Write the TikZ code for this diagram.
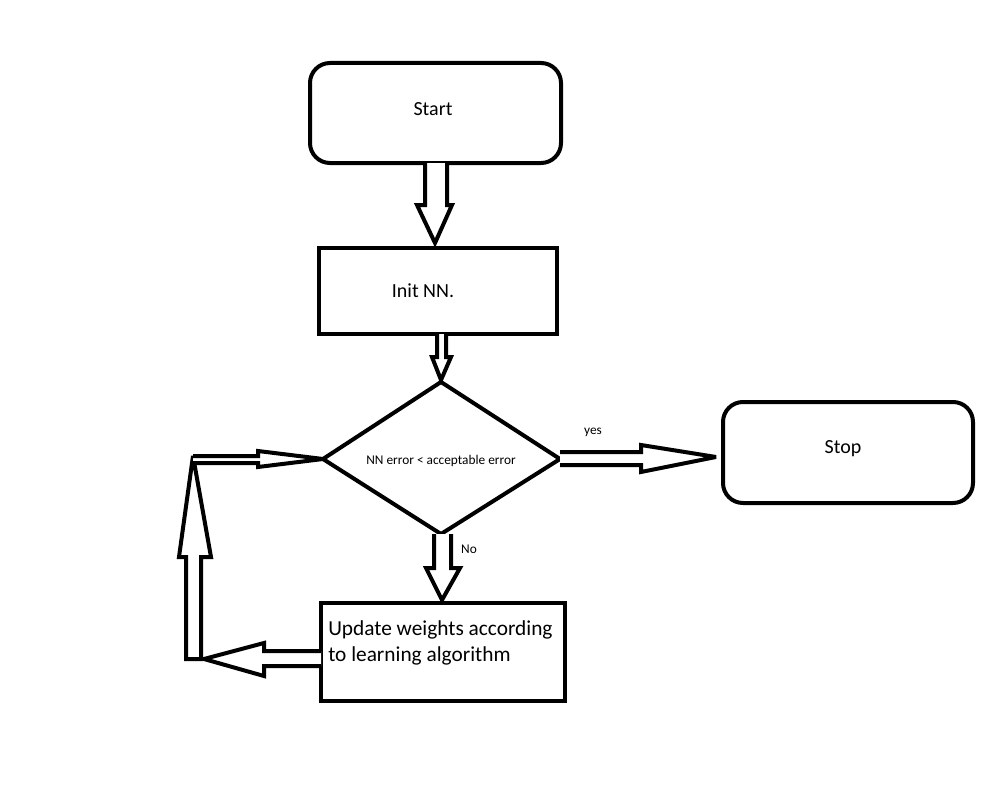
\documentclass[tikz,border=0pt]{standalone}
\usepackage{fontspec}
\setmainfont{Carlito}
\begin{document}
\begin{tikzpicture}[x=0.75pt,y=-0.75pt,
  box/.style={draw,line width=3pt},
  rbox/.style={draw,line width=3pt,rounded corners=15pt},
  blk/.style={draw,line width=3pt,line join=miter,miter limit=4,fill=white},
  lbl/.style={inner sep=0pt,font=\fontsize{15}{18}\selectfont},
  small/.style={inner sep=0pt,font=\fontsize{10}{12}\selectfont}]
\useasboundingbox (0,0) rectangle (982,792);
% boxes
\draw[rbox] (310,63) rectangle (561,163);
\node[lbl] (start) at (433,109) {Start};
\draw[box] (319,248) rectangle (557,334);
\node[lbl] (init) at (423,291) {Init NN.};
\draw[box] (323,459) -- (441,382) -- (560,459) -- (441,534) -- cycle;
\node[small] (dec) at (441,461) {NN error < acceptable error};
\draw[rbox] (723,402) rectangle (973,503);
\node[lbl] (stop) at (843,449) {Stop};
\draw[box] (321,603) rectangle (565,701);
\node[lbl,anchor=north west,align=left,font=\fontsize{16}{19.5}\selectfont] (upd) at (328,620) {Update weights according\\to learning algorithm};
% block arrows
\draw[blk] (425,163) -- (425,205) -- (417,205) -- (435,243) -- (452,205) -- (447,205) -- (447,163);
\draw[blk] (437,334) -- (437,357) -- (432,357) -- (441,380) -- (451,357) -- (446,357) -- (446,334);
\draw[blk] (560,452) -- (641,452) -- (641,445) -- (716,457) -- (641,472) -- (641,465) -- (560,465);
\draw[blk] (434,534) -- (434,568) -- (426,568) -- (442,600) -- (460,568) -- (451,568) -- (451,534);
\draw[blk] (321,651) -- (264,651) -- (264,643) -- (204,659) -- (264,676) -- (264,666) -- (321,666);
\draw[blk] (186,659) -- (186,557) -- (179,557) -- (193,456) -- (211,557) -- (201,557) -- (201,659) -- cycle;
\draw[blk] (193,456) -- (258,456) -- (258,451) -- (323,459) -- (258,467) -- (258,463) -- (193,463);
\node[small] (yes) at (593,432) {yes};
\node[small] (no) at (469,549) {No};
\end{tikzpicture}
\end{document}
